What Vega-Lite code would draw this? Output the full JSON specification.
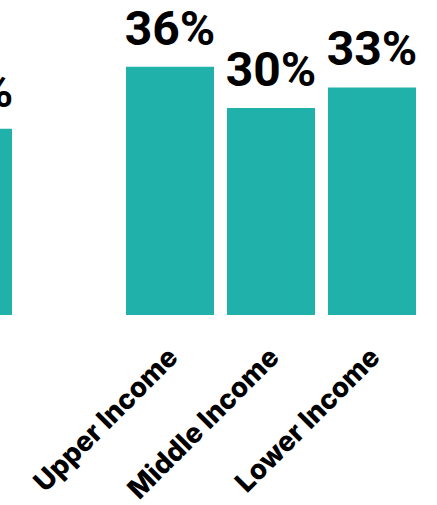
{
  "$schema": "https://vega.github.io/schema/vega-lite/v6.json",
  "width": 437,
  "height": 315,
  "autosize": {"type": "none"},
  "padding": {"left": 0, "top": 0, "right": 0, "bottom": 190},
  "background": "white",
  "config": {"view": {"stroke": null}},
  "data": {
    "values": [
      {"group": "All Adults", "pct": 0.27},
      {"group": "Upper Income", "pct": 0.36},
      {"group": "Middle Income", "pct": 0.30},
      {"group": "Lower Income", "pct": 0.33}
    ]
  },
  "encoding": {
    "x": {
      "field": "group",
      "type": "nominal",
      "sort": null,
      "scale": {
        "domain": ["All Adults", "spacer", "Upper Income", "Middle Income", "Lower Income"],
        "range": [-82.5, 422.5],
        "paddingInner": 0.1287,
        "paddingOuter": 0.0644
      },
      "axis": {
        "title": null,
        "domain": false,
        "ticks": false,
        "labelAngle": -45,
        "labelFont": "Inter",
        "labelFontWeight": 800,
        "labelFontSize": 27.5,
        "labelLimit": 500,
        "labelColor": "#000000",
        "labelPadding": 28,
        "labelOffset": -6,
        "labelExpr": "datum.value == 'spacer' ? '' : datum.value"
      }
    },
    "y": {
      "field": "pct",
      "type": "quantitative",
      "scale": {"domain": [0, 0.4567], "nice": false},
      "axis": null
    }
  },
  "layer": [
    {"mark": {"type": "bar", "color": "#20B2AA"}},
    {
      "mark": {
        "type": "text",
        "font": "Roboto",
        "fontWeight": 700,
        "fontSize": 48,
        "color": "#000000",
        "baseline": "alphabetic",
        "align": "center",
        "dy": -22
      },
      "encoding": {"text": {"field": "pct", "type": "quantitative", "format": ".0%"}}
    }
  ]
}
